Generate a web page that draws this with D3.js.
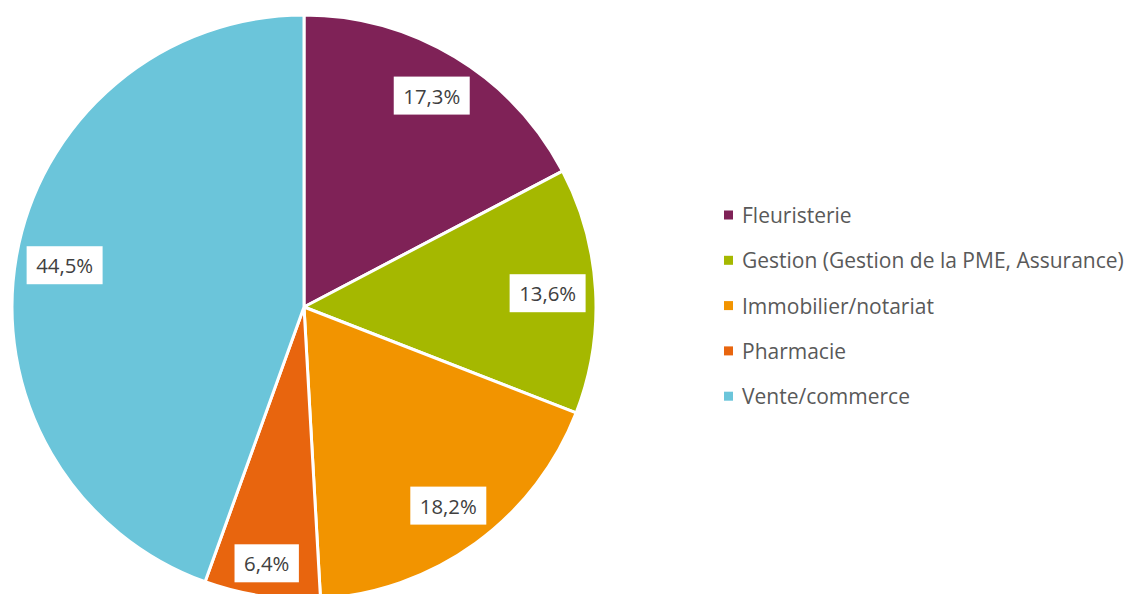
<!DOCTYPE html>
<html><head><meta charset="utf-8">
<script src="https://cdn.jsdelivr.net/npm/d3@7"></script>
<style>html,body{margin:0;padding:0;background:#fff;}svg{display:block;}</style>
</head><body>
<script>
const categories = ["Fleuristerie","Gestion (Gestion de la PME, Assurance)","Immobilier/notariat","Pharmacie","Vente/commerce"];
const values = [17.3, 13.6, 18.2, 6.4, 44.5];
const labels = ["17,3%","13,6%","18,2%","6,4%","44,5%"];
const colors = ["#7F2257","#A5B800","#F29400","#E8650E","#6BC5DA"];

const W = 1128, H = 594;
const cx = 304, cy = 307, R = 292;
const font = "'Open Sans', 'Liberation Sans', sans-serif";

const svg = d3.select("body").append("svg").attr("width", W).attr("height", H);
const g = svg.append("g").attr("transform", `translate(${cx},${cy})`);

const pie = d3.pie().sort(null).value(d => d);
const arcs = pie(values);
const arc = d3.arc().innerRadius(0).outerRadius(R);

g.selectAll("path.slice").data(arcs).enter().append("path")
  .attr("class","slice")
  .attr("d", arc)
  .attr("fill", (d,i) => colors[i])
  .attr("stroke", "#fff").attr("stroke-width", 3).attr("stroke-linejoin","round");

// measure label font so "17,3%" is ~57px wide
const probe = svg.append("text").text(labels[0]).attr("font-family", font).attr("font-size", 20);
const labelSize = 20 * 57 / probe.node().getComputedTextLength();
probe.remove();

const pad = 8;
arcs.forEach((a, i) => {
  const lg = g.append("g");
  const t = lg.append("text").text(labels[i])
    .attr("font-family", font).attr("font-size", labelSize)
    .attr("fill", "#404040").attr("text-anchor","middle").attr("dominant-baseline","central");
  const tw = t.node().getComputedTextLength();
  const bw = tw + 19, bh = 38;
  const mid = (a.startAngle + a.endAngle) / 2;
  const ux = Math.sin(mid), uy = -Math.cos(mid);
  let d = 0;
  for (let s = 0; s < R; s += 0.5) {
    const x = s*ux, y = s*uy;
    const corners = [[x-bw/2,y-bh/2],[x+bw/2,y-bh/2],[x-bw/2,y+bh/2],[x+bw/2,y+bh/2]];
    const maxd = d3.max(corners, c => Math.hypot(c[0], c[1]));
    if (maxd <= R - pad) d = s; else break;
  }
  const x = d*ux, y = d*uy;
  lg.attr("transform", `translate(${x},${y})`);
  lg.insert("rect","text").attr("x",-bw/2).attr("y",-bh/2).attr("width",bw).attr("height",bh).attr("fill","#fff");
});

// legend
const legX = 724, legY0 = 215, legStep = 45.3;
const leg = svg.append("g");
categories.forEach((c, i) => {
  const y = legY0 + i*legStep;
  leg.append("rect").attr("x", legX).attr("y", y-4.5).attr("width", 9).attr("height", 9).attr("fill", colors[i]);
  leg.append("text").attr("class","legtxt").attr("x", legX+18).attr("y", y).text(c)
    .attr("font-family", font).attr("font-size", 19).attr("fill","#595959")
    .attr("dominant-baseline","central");
});
const longest = leg.selectAll("text.legtxt").nodes()[1];
const wl = longest.getComputedTextLength();
const fs = 19 * 382 / wl;
leg.selectAll("text.legtxt").attr("font-size", fs);
</script>
</body></html>
